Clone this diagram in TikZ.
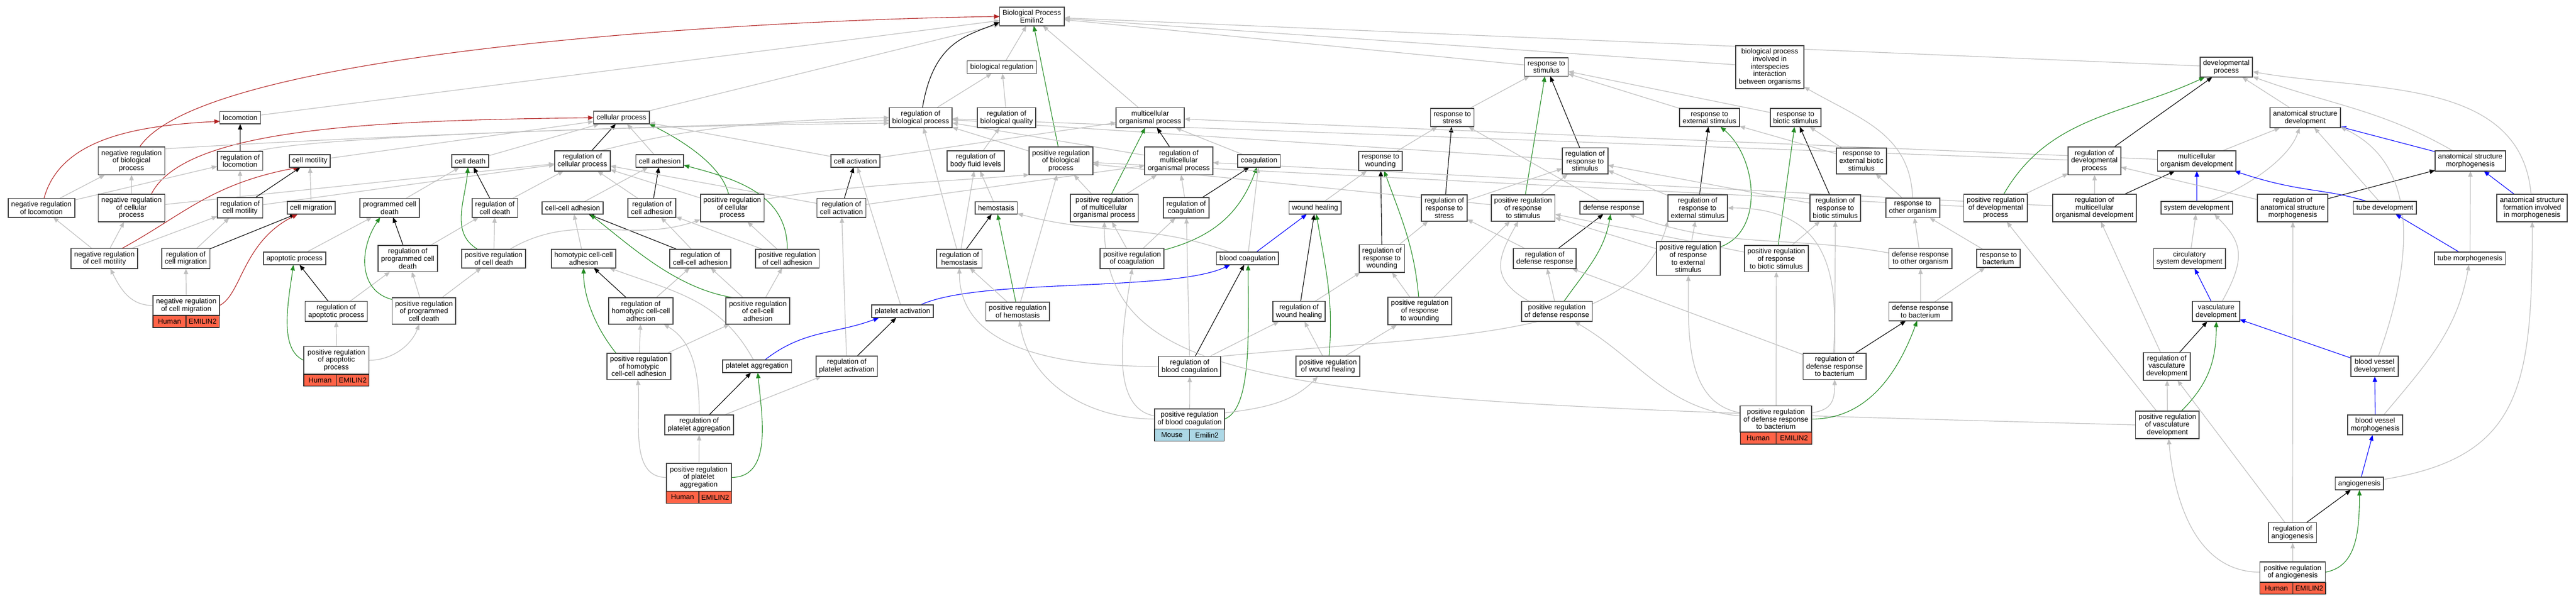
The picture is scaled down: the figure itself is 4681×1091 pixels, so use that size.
\documentclass[tikz,border=0pt]{standalone}
\usepackage{fontspec}
\setmainfont{Liberation Sans}
\usetikzlibrary{arrows.meta}

\definecolor{isagray}{RGB}{192,192,192}
\definecolor{posgreen}{RGB}{34,139,34}
\definecolor{negred}{RGB}{178,34,34}
\definecolor{partblue}{RGB}{0,0,255}
\definecolor{boxline}{RGB}{68,68,68}
\definecolor{human}{RGB}{255,99,71}
\definecolor{mouse}{RGB}{173,216,230}

\pgfdeclarelayer{back}
\pgfdeclarelayer{edges}
\pgfsetlayers{back,edges,main}

\begin{document}
\begin{tikzpicture}[x=1pt,y=-1pt,scale=0.1,every node/.style={transform shape},
  >={Triangle[length=1.0pt,width=0.8pt]},
  term/.style={draw=boxline,line width=0.18pt,fill=white,align=center,
    inner xsep=5.5pt,inner ysep=5.4pt,minimum height=22.8pt,
    font=\fontsize{13}{13.7}\selectfont},
  gene/.style={draw=black!85,line width=0.12pt,anchor=north west,inner sep=0pt,
    minimum height=21.5pt,font=\fontsize{13}{13.7}\selectfont},
  isa/.style={->,draw=isagray,line width=0.12pt},
  regof/.style={->,draw=black,line width=0.11pt},
  posreg/.style={->,draw=posgreen,line width=0.11pt},
  negreg/.style={->,draw=negred,line width=0.11pt},
  partof/.style={->,draw=partblue,line width=0.11pt}]
\useasboundingbox (0,0) rectangle (4681,1091);
\begin{pgfonlayer}{back}
\fill[white] (0,0) rectangle (4681,1091);
\end{pgfonlayer}

 \node[term] (bp) at (1875,30) {Biological Process\\Emilin2};
 \node[term] (bio_reg) at (1820.5,122) {biological regulation};
 \node[term] (resp_stim) at (2809.9,121.9) {response to\\stimulus};
 \node[term] (interspec) at (3215.9,121.9) {biological process\\involved in\\interspecies\\interaction\\between organisms};
 \node[term] (dev_proc) at (4045.5,121.9) {developmental\\process};

 \node[term] (loc) at (436.5,213.8) {locomotion};
 \node[term] (cell_proc) at (1129.2,213.8) {cellular process};
 \node[term] (reg_bp) at (1673,213.8) {regulation of\\biological process};
 \node[term] (reg_bq) at (1829.1,213.8) {regulation of\\biological quality};
 \node[term] (mo_proc) at (2090.1,213.8) {multicellular\\organismal process};
 \node[term] (resp_stress) at (2639,213.8) {response to\\stress};
 \node[term] (resp_ext) at (3106.3,213.8) {response to\\external stimulus};
 \node[term] (resp_biot) at (3262.9,213.8) {response to\\biotic stimulus};
 \node[term] (as_dev) at (4188.9,213.8) {anatomical structure\\development};

 \node[term] (neg_bp) at (239,292.4) {negative regulation\\of biological\\process};
 \node[term] (reg_loc) at (436.2,292.4) {regulation of\\locomotion};
 \node[term] (cell_mot) at (563,292.5) {cell motility};
 \node[term] (cell_death) at (854.5,292.5) {cell death};
 \node[term] (reg_cp) at (1058.3,292.4) {regulation of\\cellular process};
 \node[term] (cell_adh) at (1198.9,292.5) {cell adhesion};
 \node[term] (cell_act) at (1554.5,292.5) {cell activation};
 \node[term] (reg_bfl) at (1773,292.4) {regulation of\\body fluid levels};
 \node[term] (pos_bp) at (1927.9,292.4) {positive regulation\\of biological\\process};
 \node[term] (reg_mo) at (2142.1,292.4) {regulation of\\multicellular\\organismal process};
 \node[term] (coag) at (2287.8,292.5) {coagulation};
 \node[term] (resp_wound) at (2508.6,292.4) {response to\\wounding};
 \node[term] (reg_rs) at (2880.3,292.4) {regulation of\\response to\\stimulus};
 \node[term] (resp_extbiot) at (3382.5,292.4) {response to\\external biotic\\stimulus};
 \node[term] (reg_dev) at (3805.8,292.4) {regulation of\\developmental\\process};
 \node[term] (mo_dev) at (3991.7,292.4) {multicellular\\organism development};
 \node[term] (as_morph) at (4488.9,292.4) {anatomical structure\\morphogenesis};

 \node[term] (neg_loc) at (75.3,377.6) {negative regulation\\of locomotion};
 \node[term] (neg_cp) at (239,377.8) {negative regulation\\of cellular\\process};
 \node[term] (reg_cmot) at (436.2,377.6) {regulation of\\cell motility};
 \node[term] (cell_mig) at (565.5,377.8) {cell migration};
 \node[term] (pcd) at (708,377.6) {programmed cell\\death};
 \node[term] (reg_cd) at (899.2,377.6) {regulation of\\cell death};
 \node[term] (cc_adh) at (1040.5,377.8) {cell-cell adhesion};
 \node[term] (reg_cadh) at (1184.6,377.6) {regulation of\\cell adhesion};
 \node[term] (pos_cp) at (1330.6,377.8) {positive regulation\\of cellular\\process};
 \node[term] (reg_cact) at (1529,377.6) {regulation of\\cell activation};
 \node[term] (hemo) at (1810.2,377.8) {hemostasis};
 \node[term] (pos_mo) at (2006.7,377.8) {positive regulation\\of multicellular\\organismal process};
 \node[term] (reg_coag) at (2155.4,377.6) {regulation of\\coagulation};
 \node[term] (wound) at (2389.8,377.8) {wound healing};
 \node[term] (reg_rstress) at (2624.5,377.8) {regulation of\\response to\\stress};
 \node[term] (pos_rs) at (2767.6,377.8) {positive regulation\\of response\\to stimulus};
 \node[term] (def_resp) at (2928.5,377.8) {defense response};
 \node[term] (reg_rext) at (3084.9,377.8) {regulation of\\response to\\external stimulus};
 \node[term] (reg_rbiot) at (3335,377.8) {regulation of\\response to\\biotic stimulus};
 \node[term] (resp_org) at (3475.9,377.6) {response to\\other organism};
 \node[term] (pos_dev) at (3626.4,377.8) {positive regulation\\of developmental\\process};
 \node[term] (reg_modev) at (3806,377.8) {regulation of\\multicellular\\organismal development};
 \node[term] (sys_dev) at (3991.7,377.8) {system development};
 \node[term] (reg_asm) at (4166.2,377.8) {regulation of\\anatomical structure\\morphogenesis};
 \node[term] (tube_dev) at (4333.6,377.8) {tube development};
 \node[term] (as_form) at (4601.2,377.8) {anatomical structure\\formation involved\\in morphogenesis};

 \node[term] (neg_cmot) at (189.8,469.7) {negative regulation\\of cell motility};
 \node[term] (reg_cmig) at (337.7,469.7) {regulation of\\cell migration};
 \node[term] (apop) at (535.2,469.7) {apoptotic process};
 \node[term] (reg_pcd) at (741,469.7) {regulation of\\programmed cell\\death};
 \node[term] (pos_cd) at (897.1,469.7) {positive regulation\\of cell death};
 \node[term] (homo_adh) at (1060.4,469.7) {homotypic cell-cell\\adhesion};
 \node[term] (reg_ccadh) at (1272.6,469.7) {regulation of\\cell-cell adhesion};
 \node[term] (pos_cadh) at (1430.6,469.7) {positive regulation\\of cell adhesion};
 \node[term] (reg_hemo) at (1743.2,469.7) {regulation of\\hemostasis};
 \node[term] (pos_coag) at (2057.2,469.7) {positive regulation\\of coagulation};
 \node[term] (bcoag) at (2266.9,469.7) {blood coagulation};
 \node[term] (reg_rwound) at (2511.2,469.7) {regulation of\\response to\\wounding};
 \node[term] (reg_def) at (2807.1,469.7) {regulation of\\defense response};
 \node[term] (pos_rext) at (3067.8,469.7) {positive regulation\\of response\\to external\\stimulus};
 \node[term] (pos_rbiot) at (3227.7,469.7) {positive regulation\\of response\\to biotic stimulus};
 \node[term] (def_org) at (3489.7,469.7) {defense response\\to other organism};
 \node[term] (resp_bact) at (3631.2,469.7) {response to\\bacterium};
 \node[term] (circ_dev) at (3978.5,469.7) {circulatory\\system development};
 \node[term] (tube_morph) at (4488.1,469.7) {tube morphogenesis};

 \node[term,minimum width=120pt] (neg_cmig) at (338.5,555) {negative regulation\\of cell migration};
 \node[gene,fill=human,minimum width=60pt] (neg_cmig_s) at (neg_cmig.south west) {Human};
 \node[gene,fill=human,minimum width=60pt] (neg_cmig_g) at (neg_cmig_s.north east) {EMILIN2};
 \node[term] (reg_apop) at (611,565.8) {regulation of\\apoptotic process};
 \node[term] (pos_pcd) at (770.4,565.2) {positive regulation\\of programmed\\cell death};
 \node[term] (reg_homo) at (1164.5,565.2) {regulation of\\homotypic cell-cell\\adhesion};
 \node[term] (pos_ccadh) at (1377.2,565.2) {positive regulation\\of cell-cell\\adhesion};
 \node[term] (plt_act) at (1640.1,565.8) {platelet activation};
 \node[term] (pos_hemo) at (1849.3,565.8) {positive regulation\\of hemostasis};
 \node[term] (reg_wound) at (2360.5,565.8) {regulation of\\wound healing};
 \node[term] (pos_rwound) at (2580,565.2) {positive regulation\\of response\\to wounding};
 \node[term] (pos_def) at (2829,565.8) {positive regulation\\of defense response};
 \node[term] (def_bact) at (3489.7,565.8) {defense response\\to bacterium};
 \node[term] (vasc_dev) at (4027,565.8) {vasculature\\development};

 \node[term,minimum width=118.4pt] (pos_apop) at (611.2,654.6) {positive regulation\\of apoptotic\\process};
 \node[gene,fill=human,minimum width=59.2pt] (pos_apop_s) at (pos_apop.south west) {Human};
 \node[gene,fill=human,minimum width=59.2pt] (pos_apop_g) at (pos_apop_s.north east) {EMILIN2};
 \node[term] (pos_homo) at (1160.9,665.6) {positive regulation\\of homotypic\\cell-cell adhesion};
 \node[term] (plt_agg) at (1375.9,665.6) {platelet aggregation};
 \node[term] (reg_pact) at (1538.7,665.4) {regulation of\\platelet activation};
 \node[term] (reg_bcoag) at (2161.8,665.8) {regulation of\\blood coagulation};
 \node[term] (pos_wound) at (2413.2,665.6) {positive regulation\\of wound healing};
 \node[term] (reg_dbact) at (3333.7,665.6) {regulation of\\defense response\\to bacterium};
 \node[term] (reg_vasc) at (3937.4,665.6) {regulation of\\vasculature\\development};
 \node[term] (bv_dev) at (4314.9,665.4) {blood vessel\\development};

 \node[term] (reg_pagg) at (1270.5,772) {regulation of\\platelet aggregation};
 \node[term,minimum width=126.5pt] (pos_bcoag) at (2161.6,761.3) {positive regulation\\of blood coagulation};
 \node[gene,fill=mouse,minimum width=63.25pt] (pos_bcoag_s) at (pos_bcoag.south west) {Mouse};
 \node[gene,fill=mouse,minimum width=63.25pt] (pos_bcoag_g) at (pos_bcoag_s.north east) {Emilin2};
 \node[term,minimum width=129.6pt] (pos_dbact) at (3227.1,761.4) {positive regulation\\of defense response\\to bacterium};
 \node[gene,fill=human,minimum width=64.8pt] (pos_dbact_s) at (pos_dbact.south west) {Human};
 \node[gene,fill=human,minimum width=64.8pt] (pos_dbact_g) at (pos_dbact_s.north east) {EMILIN2};
 \node[term] (pos_vasc) at (3938.4,772) {positive regulation\\of vasculature\\development};
 \node[term] (bv_morph) at (4316,772) {blood vessel\\morphogenesis};

 \node[term,minimum width=118.4pt] (pos_pagg) at (1269.8,867.4) {positive regulation\\of platelet\\aggregation};
 \node[gene,fill=human,minimum width=59.2pt] (pos_pagg_s) at (pos_pagg.south west) {Human};
 \node[gene,fill=human,minimum width=59.2pt] (pos_pagg_g) at (pos_pagg_s.north east) {EMILIN2};
 \node[term] (angio) at (4287.2,878.7) {angiogenesis};
 \node[term] (reg_angio) at (4165.7,967.8) {regulation of\\angiogenesis};
 \node[term,minimum width=118.9pt] (pos_angio) at (4166,1039.5) {positive regulation\\of angiogenesis};
 \node[gene,fill=human,minimum width=59.45pt] (pos_angio_s) at (pos_angio.south west) {Human};
 \node[gene,fill=human,minimum width=59.45pt] (pos_angio_g) at (pos_angio_s.north east) {EMILIN2};

\begin{pgfonlayer}{edges}
 \path
 (bio_reg) edge[isa] (bp)
 (mo_proc) edge[isa] (bp)
 (loc) edge[isa] (bp)
 (cell_proc) edge[isa] (bp)
 (resp_stim) edge[isa] (bp)
 (interspec) edge[isa] (bp)
 (dev_proc) edge[isa] (bp)
 (pos_bp) edge[posreg] (bp)
 (reg_bp) edge[isa] (bio_reg)
 (reg_bq) edge[isa] (bio_reg)
 (reg_loc) edge[regof] (loc)
 (reg_cp) edge[regof] (cell_proc)
 (cell_mot) edge[isa] (cell_proc)
 (cell_death) edge[isa] (cell_proc)
 (cell_adh) edge[isa] (cell_proc)
 (cell_act) edge[isa] (cell_proc)
 (pos_bp) edge[isa] (reg_bp)
 (reg_mo) edge[isa] (reg_bp)
 (reg_hemo) edge[isa] (reg_bp)
 (reg_rs) edge[isa] (reg_bp)
 (reg_dev) edge[isa] (reg_bp);
 \draw[negreg] (neg_bp.60) .. controls +(120,-180) and +(-400,5) .. (bp.west);
 \draw[regof] (reg_bp.80) .. controls +(20,-120) and +(-60,25) .. (bp.190);
 \draw[negreg] (neg_loc.75) .. controls +(30,-110) and +(-150,8) .. (loc.190);
 \draw[negreg] (neg_cp.35) .. controls +(60,-120) and +(-400,5) .. (cell_proc.west);
 \draw[posreg] (pos_cp.105) .. controls +(-15,-60) and +(40,20) .. (cell_proc.south east);
 \draw[isa] (neg_bp.20) .. controls +(400,-25) and +(-400,10) .. (reg_bp.185);
 \draw[isa] (reg_loc.30) .. controls +(80,-25) and +(-500,5) .. (reg_bp.190);
 \draw[isa] (reg_cp.30) .. controls +(100,-25) and +(-300,5) .. (reg_bp.west);

 \path
 (neg_loc) edge[isa] (neg_bp)
 (neg_loc) edge[isa] (reg_loc)
 (neg_cp) edge[isa] (neg_bp)
 (neg_cp) edge[isa] (reg_cp)
 (reg_cmot) edge[regof] (cell_mot)
 (reg_cmot) edge[isa] (reg_loc)
 (reg_cmot) edge[isa] (reg_cp)
 (cell_mig) edge[isa] (cell_mot)
 (neg_cmot) edge[isa] (neg_loc)
 (neg_cmot) edge[isa] (neg_cp)
 (neg_cmot) edge[isa] (reg_cmot)
 (reg_cmig) edge[regof] (cell_mig)
 (reg_cmig) edge[isa] (reg_cmot)
 (neg_cmig) edge[isa] (reg_cmig)
 (apop) edge[isa] (pcd)
 (pcd) edge[isa] (cell_death)
 (reg_pcd) edge[regof] (pcd)
 (reg_pcd) edge[isa] (reg_cd)
 (reg_apop) edge[regof] (apop)
 (reg_apop) edge[isa] (reg_pcd)
 (pos_pcd) edge[isa] (reg_pcd)
 (pos_pcd) edge[isa] (pos_cd)
 (pos_apop) edge[isa] (reg_apop);
 \draw[negreg] (neg_cmot.30) .. controls +(110,-60) and +(-160,30) .. (cell_mot.210);
 \draw[negreg] (neg_cmig.east) .. controls +(40,-20) and +(-100,50) .. (cell_mig.205);
 \draw[isa] (neg_cmig.west) .. controls +(-40,0) and +(20,40) .. (neg_cmot.300);
 \draw[posreg] (pos_pcd.160) .. controls +(-60,-15) and +(-40,60) .. (pcd.225);
 \draw[posreg] (pos_apop.west) .. controls +(-45,-20) and +(-10,70) .. (apop.260);
 \draw[isa] (pos_apop.east) .. controls +(40,0) and +(-15,40) .. (pos_pcd.250);

 \path
 (reg_cd) edge[regof] (cell_death)
 (reg_cd) edge[isa] (reg_cp)
 (pos_cd) edge[isa] (reg_cd)
 (reg_cadh) edge[regof] (cell_adh)
 (reg_cadh) edge[isa] (reg_cp)
 (cc_adh) edge[isa] (cell_adh)
 (pos_cp) edge[isa] (reg_cp)
 (pos_cadh) edge[isa] (reg_cadh)
 (pos_cadh) edge[isa] (pos_cp)
 (reg_ccadh) edge[regof] (cc_adh)
 (reg_ccadh) edge[isa] (reg_cadh)
 (homo_adh) edge[isa] (cc_adh)
 (reg_homo) edge[regof] (homo_adh)
 (reg_homo) edge[isa] (reg_ccadh)
 (pos_ccadh) edge[isa] (reg_ccadh)
 (pos_ccadh) edge[isa] (pos_cadh)
 (pos_homo) edge[isa] (reg_homo)
 (pos_homo) edge[isa] (pos_ccadh)
 (reg_pagg) edge[regof] (plt_agg)
 (reg_pagg) edge[isa] (reg_pact)
 (pos_pagg) edge[isa] (reg_pagg)
 (reg_pact) edge[regof] (plt_act)
 (reg_pact) edge[isa] (reg_cact)
 (plt_act) edge[isa] (cell_act)
 (reg_cact) edge[regof] (cell_act)
 (reg_cact) edge[isa] (reg_cp)
 (reg_cact) edge[isa] (reg_mo)
 (cell_act) edge[isa] (mo_proc);
 \draw[posreg] (pos_cd.150) .. controls +(-50,-30) and +(-5,60) .. (cell_death.250);
 \draw[isa] (pos_cd.30) .. controls +(120,-70) and +(-130,45) .. (pos_cp.200);
 \draw[isa] (pos_cp.15) .. controls +(150,-25) and +(-200,15) .. (pos_bp.south west);
 \draw[posreg] (pos_cadh.north) .. controls +(0,-100) and +(95,25) .. (cell_adh.350);
 \draw[posreg] (pos_ccadh.150) .. controls +(-104,-15) and +(78,61) .. (cc_adh.340);
 \draw[posreg] (pos_homo.150) .. controls +(-40,-50) and +(0,50) .. (homo_adh.south);
 \draw[isa] (plt_agg.120) .. controls +(-60,-110) and +(117,43) .. (homo_adh.340);
 \draw[partof] (plt_agg.40) .. controls +(70,-55) and +(-80,30) .. (plt_act.195);
 \draw[isa] (reg_pagg.north) .. controls +(0,-66) and +(57,33) .. (reg_homo.330);
 \draw[posreg] (pos_pagg.east) .. controls +(76,0) and +(7,76) .. (plt_agg.275);
 \draw[isa] (pos_pagg.west) .. controls +(-68,0) and +(6,70) .. (pos_homo.265);
 \draw[partof] (plt_act.20) .. controls +(106,-50) and +(-106,50) .. (bcoag.200);

 \path
 (reg_bfl) edge[isa] (reg_bq)
 (hemo) edge[isa] (reg_bfl)
 (reg_hemo) edge[regof] (hemo)
 (reg_hemo) edge[isa] (reg_bfl)
 (pos_hemo) edge[posreg] (hemo)
 (pos_hemo) edge[isa] (reg_hemo)
 (pos_hemo) edge[isa] (pos_bp)
 (reg_mo) edge[regof] (mo_proc)
 (pos_mo) edge[posreg] (mo_proc)
 (pos_mo) edge[isa] (reg_mo)
 (pos_mo) edge[isa] (pos_bp)
 (coag) edge[isa] (mo_proc)
 (reg_coag) edge[regof] (coag)
 (reg_coag) edge[isa] (reg_mo)
 (pos_coag) edge[isa] (reg_coag)
 (pos_coag) edge[isa] (pos_mo)
 (bcoag) edge[isa] (coag)
 (bcoag) edge[partof] (wound)
 (reg_bcoag) edge[regof] (bcoag)
 (reg_bcoag) edge[isa] (reg_coag)
 (reg_bcoag) edge[isa] (reg_wound)
 (pos_bcoag) edge[isa] (reg_bcoag);
 \draw[posreg] (pos_coag.15) .. controls +(87,-23) and +(-31,85) .. (coag.250);
 \draw[isa] (bcoag.160) .. controls +(-146,-53) and +(150,40) .. (hemo.345);
 \draw[isa] (reg_bcoag.west) .. controls +(-157,0) and +(0,157) .. (reg_hemo.south);
 \draw[isa] (reg_bcoag.north east) .. controls +(400,-40) and +(-60,220) .. (reg_rext.south west);
 \draw[posreg] (pos_bcoag.east) .. controls +(50,-20) and +(0,120) .. (bcoag.275);
 \draw[isa] (pos_bcoag.west) .. controls +(-118,0) and +(20,116) .. (pos_hemo.280);
 \draw[isa] (pos_bcoag.175) .. controls +(-80,-15) and +(-20,120) .. (pos_coag.south);
 \draw[isa] (pos_bcoag.10) .. controls +(90,-10) and +(-40,40) .. (pos_wound.225);
 \draw[isa] (pos_vasc.west) .. controls +(-1500,-40) and +(0,320) .. (pos_mo.south);

 \path
 (wound) edge[isa] (resp_wound)
 (reg_wound) edge[regof] (wound)
 (reg_wound) edge[isa] (reg_rwound)
 (pos_wound) edge[isa] (reg_wound)
 (pos_wound) edge[isa] (pos_rwound)
 (resp_wound) edge[isa] (resp_stress)
 (reg_rwound) edge[regof] (resp_wound)
 (reg_rwound) edge[isa] (reg_rstress)
 (pos_rwound) edge[isa] (reg_rwound)
 (pos_rwound) edge[isa] (pos_rs)
 (resp_stress) edge[isa] (resp_stim)
 (reg_rstress) edge[regof] (resp_stress)
 (reg_rstress) edge[isa] (reg_rs)
 (pos_rs) edge[posreg] (resp_stim)
 (pos_rs) edge[isa] (reg_rs)
 (pos_rs) edge[isa] (pos_bp)
 (reg_rs) edge[regof] (resp_stim)
 (def_resp) edge[isa] (resp_stress)
 (reg_def) edge[regof] (def_resp)
 (reg_def) edge[isa] (reg_rstress)
 (pos_def) edge[isa] (reg_def)
 (reg_rext) edge[regof] (resp_ext)
 (reg_rext) edge[isa] (reg_rs)
 (pos_rext) edge[isa] (reg_rext)
 (pos_rext) edge[isa] (pos_rs)
 (resp_ext) edge[isa] (resp_stim);
 \draw[posreg] (pos_wound.85) .. controls +(9,-100) and +(17,100) .. (wound.280);
 \draw[posreg] (pos_rwound.95) .. controls +(-8,-92) and +(31,86) .. (resp_wound.290);
 \draw[posreg] (pos_def.55) .. controls +(40,-57) and +(-12,69) .. (def_resp.260);
 \draw[isa] (pos_def.160) .. controls +(-70,-40) and +(-40,70) .. (pos_rs.250);
 \draw[posreg] (pos_rext.20) .. controls +(81,-29) and +(66,55) .. (resp_ext.320);

 \path
 (resp_biot) edge[isa] (resp_stim)
 (resp_extbiot) edge[isa] (resp_ext)
 (resp_extbiot) edge[isa] (resp_biot)
 (reg_rbiot) edge[regof] (resp_biot)
 (reg_rbiot) edge[isa] (reg_rs)
 (pos_rbiot) edge[posreg] (resp_biot)
 (pos_rbiot) edge[isa] (reg_rbiot)
 (pos_rbiot) edge[isa] (pos_rs)
 (resp_org) edge[isa] (resp_extbiot)
 (def_org) edge[isa] (resp_org)
 (resp_bact) edge[isa] (resp_org)
 (def_bact) edge[isa] (def_org)
 (def_bact) edge[isa] (resp_bact)
 (reg_dbact) edge[regof] (def_bact)
 (reg_dbact) edge[isa] (reg_def)
 (reg_dbact) edge[isa] (reg_rbiot)
 (pos_dbact) edge[isa] (pos_rbiot);
 \draw[isa] (resp_org.92) .. controls +(-4,-117) and +(101,58) .. (interspec.330);
 \draw[isa] (def_org.170) .. controls +(-185,-33) and +(177,64) .. (def_resp.340);
 \draw[isa] (reg_dbact.95) .. controls +(10,-150) and +(180,0) .. (reg_rext.east);
 \draw[posreg] (pos_dbact.east) .. controls +(101,0) and +(-35,95) .. (def_bact.250);
 \draw[isa] (pos_dbact.10) .. controls +(35,-5) and +(0,40) .. (reg_dbact.south);
 \draw[isa] (pos_dbact.175) .. controls +(-136,-12) and +(118,69) .. (pos_def.330);
 \draw[isa] (pos_dbact.170) .. controls +(-101,-18) and +(0,103) .. (pos_rext.south);

 \path
 (reg_dev) edge[regof] (dev_proc)
 (pos_dev) edge[isa] (reg_dev)
 (pos_dev) edge[isa] (pos_bp)
 (reg_modev) edge[regof] (mo_dev)
 (reg_modev) edge[isa] (reg_dev)
 (reg_modev) edge[isa] (reg_mo)
 (as_dev) edge[isa] (dev_proc)
 (mo_dev) edge[isa] (as_dev)
 (mo_dev) edge[isa] (mo_proc)
 (as_morph) edge[partof] (as_dev)
 (as_form) edge[partof] (as_morph)
 (sys_dev) edge[partof] (mo_dev)
 (reg_asm) edge[regof] (as_morph)
 (reg_asm) edge[isa] (reg_dev)
 (tube_dev) edge[isa] (as_dev)
 (circ_dev) edge[isa] (sys_dev)
 (tube_morph) edge[partof] (tube_dev)
 (tube_morph) edge[isa] (as_morph)
 (vasc_dev) edge[partof] (circ_dev)
 (reg_vasc) edge[regof] (vasc_dev)
 (reg_vasc) edge[isa] (reg_modev)
 (pos_vasc) edge[isa] (reg_vasc)
 (pos_vasc) edge[isa] (pos_dev)
 (bv_dev) edge[partof] (vasc_dev)
 (bv_morph) edge[partof] (bv_dev)
 (angio) edge[partof] (bv_morph)
 (reg_angio) edge[regof] (angio)
 (reg_angio) edge[isa] (reg_vasc)
 (reg_angio) edge[isa] (reg_asm)
 (pos_angio) edge[isa] (reg_angio);
 \draw[posreg] (pos_dev.60) .. controls +(82,-142) and +(-148,69) .. (dev_proc.205);
 \draw[isa] (as_morph.150) .. controls +(-130,-75) and +(141,51) .. (dev_proc.340);
 \draw[isa] (as_form.95) .. controls +(-19,-214) and +(212,37) .. (dev_proc.350);
 \draw[isa] (sys_dev.30) .. controls +(60,-20) and +(-20,60) .. (as_dev.240);
 \draw[partof] (tube_dev.160) .. controls +(-80,-25) and +(120,40) .. (mo_dev.345);
 \draw[isa] (vasc_dev.60) .. controls +(45,-80) and +(50,50) .. (sys_dev.340);
 \draw[isa] (bv_dev.70) .. controls +(59,-162) and +(150,70) .. (as_dev.345);
 \draw[isa] (bv_morph.50) .. controls +(78,-93) and +(-21,119) .. (tube_morph.260);
 \draw[isa] (angio.10) .. controls +(250,-40) and +(0,300) .. (as_form.south);
 \draw[posreg] (pos_vasc.45) .. controls +(50,-50) and +(0,70) .. (vasc_dev.south);
 \draw[posreg] (pos_angio.east) .. controls +(55,-10) and +(0,80) .. (angio.south);
 \draw[isa] (pos_angio.west) .. controls +(-115,0) and +(10,115) .. (pos_vasc.275);
\end{pgfonlayer}
\end{tikzpicture}
\end{document}
